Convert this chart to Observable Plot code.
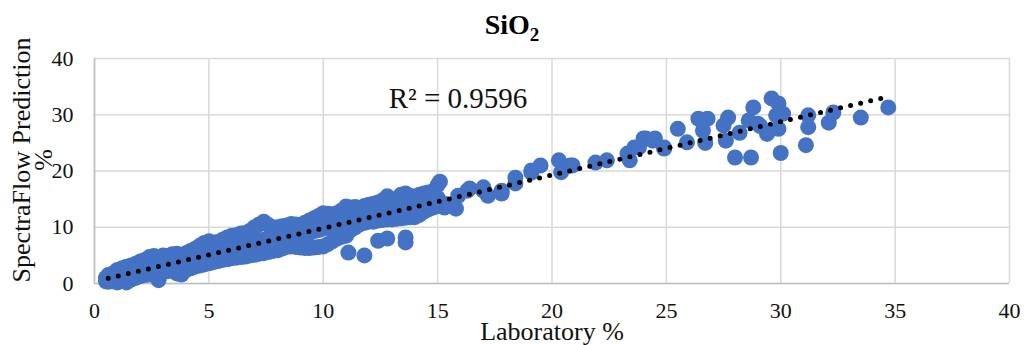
<!DOCTYPE html>
<html>
<head>
<meta charset="utf-8">
<script src="https://cdn.jsdelivr.net/npm/d3@7"></script>
<script src="https://cdn.jsdelivr.net/npm/@observablehq/plot@0.6"></script>
<style>
  html, body { margin: 0; padding: 0; background: #fff; }
  #wrap { position: relative; width: 1024px; height: 345px; overflow: hidden; }
  #title { position: absolute; left: 0; width: 1024px; top: 11px; text-align: center;
    font-family: "Liberation Serif", "Times New Roman", serif; font-weight: bold; font-size: 28px; color: #000; line-height: 1; }
  #title sub { font-size: 19px; vertical-align: -7px; line-height: 0; }
</style>
</head>
<body>
<div id="wrap"><div id="title">SiO<sub>2</sub></div></div>
<script>
const titleText = "SiO2";
const xLabel = "Laboratory %";
const yLabel = "SpectraFlow Prediction\n%";
const r2Label = "R² = 0.9596";
const xTicks = [0, 5, 10, 15, 20, 25, 30, 35, 40];
const yTicks = [0, 10, 20, 30, 40];
const trendSlope = 0.946;
const trendIntercept = 0.37;
const trendRange = [0.6, 34.7];

// [laboratory %, predicted %]
const labVsPred = [
  [0.5,0.4],[0.5,1.0],[0.6,1.5],[0.6,0.3],[0.7,0.8],[0.8,1.8],[0.8,0.4],[0.9,1.2],
  [1.0,2.4],[1.0,0.2],[1.0,1.3],[1.2,2.7],[1.2,0.6],[1.2,1.6],[1.4,3.0],[1.4,0.2],[1.4,1.9],
  [1.6,3.2],[1.6,0.7],[1.6,2.0],[1.8,3.5],[1.8,1.0],[1.8,2.4],[2.0,3.9],[2.0,1.3],[2.0,2.6],
  [2.2,4.2],[2.2,1.5],[2.2,2.8],[2.4,4.7],[2.4,1.6],[2.4,3.0],[2.6,4.9],[2.6,1.8],[2.6,3.3],
  [2.8,4.6],[2.8,0.6],[2.8,3.0],[3.0,5.0],[3.0,2.0],[3.0,3.5],[3.2,4.8],[3.2,2.2],[3.2,3.4],
  [3.4,5.2],[3.4,2.3],[3.4,3.8],[3.6,5.3],[3.6,1.8],[3.6,3.7],[3.8,5.0],[3.8,1.6],[3.8,3.6],
  [4.0,5.4],[4.0,2.4],[4.0,4.0],[4.2,5.8],[4.2,2.7],[4.2,4.2],[4.4,6.2],[4.4,3.0],[4.4,4.5],
  [4.6,6.7],[4.6,3.2],[4.6,4.8],[4.8,7.2],[4.8,3.4],[4.8,5.2],[5.0,7.5],[5.0,3.6],[5.0,5.5],
  [5.2,7.3],[5.2,3.8],[5.2,5.6],[5.4,7.4],[5.4,4.0],[5.4,5.8],[5.6,7.8],[5.6,4.2],[5.6,6.0],
  [5.8,8.2],[5.8,4.3],[5.8,6.2],[6.0,8.5],[6.0,4.5],[6.0,6.4],[6.2,8.6],[6.2,4.6],[6.2,6.6],
  [6.4,8.9],[6.4,4.7],[6.4,6.8],[6.6,9.0],[6.6,4.8],[6.6,7.0],[6.8,9.4],[6.8,5.0],[6.8,7.2],
  [7.0,10.0],[7.0,5.1],[7.0,7.4],[7.2,10.5],[7.2,5.3],[7.2,7.6],[7.4,11.0],[7.4,5.4],[7.4,7.8],
  [7.6,10.4],[7.6,5.6],[7.6,8.0],[7.8,9.8],[7.8,5.8],[7.8,7.9],[8.0,10.0],[8.0,5.9],[8.0,8.2],
  [8.2,10.2],[8.2,6.2],[8.2,8.4],[8.4,10.3],[8.4,6.5],[8.4,8.6],[8.6,10.6],[8.6,6.6],[8.6,8.8],
  [8.8,10.5],[8.8,6.5],[8.8,8.7],[9.0,10.4],[9.0,6.4],[9.0,8.6],[9.2,10.8],[9.2,6.3],[9.2,8.9],
  [9.4,11.2],[9.4,6.3],[9.4,9.0],[9.6,11.6],[9.6,6.4],[9.6,9.3],[9.8,12.0],[9.8,6.5],[9.8,9.5],
  [10.0,12.5],[10.0,6.6],[10.0,9.8],[10.2,12.4],[10.2,7.0],[10.2,9.9],[10.4,12.3],[10.4,7.5],[10.4,10.0],
  [10.6,12.5],[10.6,8.0],[10.6,10.3],[10.8,13.0],[10.8,8.3],[10.8,10.6],[11.0,13.7],[11.0,8.5],[11.0,11.0],
  [11.1,5.5],[11.2,13.5],[11.2,9.5],[11.2,11.5],[11.4,13.6],[11.4,10.0],[11.4,11.8],
  [11.6,13.4],[11.6,10.5],[11.6,12.0],[11.8,5.0],[11.8,13.8],[11.8,10.8],[11.8,12.2],
  [12.0,14.0],[12.0,11.0],[12.0,12.4],[12.2,14.2],[12.2,11.0],[12.2,12.6],
  [12.4,14.4],[12.4,11.2],[12.4,12.8],[12.4,7.6],[12.6,14.8],[12.6,11.3],[12.6,13.0],
  [12.8,15.5],[12.8,11.4],[12.8,13.1],[12.8,8.0],[13.0,15.0],[13.0,11.4],[13.0,13.0],
  [13.2,14.5],[13.2,11.5],[13.2,13.2],[13.4,15.8],[13.4,11.6],[13.4,13.5],
  [13.6,16.0],[13.6,11.7],[13.6,13.8],[13.6,8.2],[13.6,7.3],[13.8,15.6],[13.8,11.8],[13.8,13.6],
  [14.0,15.4],[14.0,11.8],[14.0,13.5],[14.2,15.8],[14.2,12.2],[14.2,14.0],[14.4,16.0],[14.4,12.8],[14.4,14.2],
  [14.6,16.2],[14.6,13.2],[14.6,14.6],[14.8,16.4],[14.8,13.5],[14.8,15.0],[15.0,17.5],[15.0,13.8],[15.0,15.2],
  [15.1,18.1],[15.3,13.5],[15.3,14.2],[15.8,13.3],[15.9,15.6],[16.3,16.5],[16.4,16.9],[17.0,17.1],
  [17.0,16.5],[17.2,15.6],[17.8,16.5],[17.8,16.0],[18.4,18.8],[18.4,17.8],[19.1,19.7],[19.1,20.1],
  [19.5,21.0],[20.3,21.9],[20.4,19.8],[20.8,21.0],[20.9,21.0],[21.9,21.5],[22.4,21.9],[23.3,23.1],
  [23.4,21.9],[23.6,24.2],[23.8,24.2],[24.0,25.8],[24.1,25.8],[24.4,25.4],[24.5,25.8],[24.9,24.2],
  [24.9,24.0],[25.5,27.5],[25.9,25.1],[26.4,29.3],[26.6,27.2],[26.7,25.0],[26.8,29.3],[27.5,28.1],
  [27.6,25.4],[27.7,29.5],[28.0,22.4],[28.2,26.8],[28.6,29.0],[28.7,22.4],[28.8,31.3],[29.0,28.4],
  [29.1,28.0],[29.4,26.6],[29.6,32.9],[29.8,29.9],[29.9,32.0],[29.9,27.5],[30.0,23.2],[30.1,30.2],
  [31.1,24.6],[31.2,29.9],[31.2,27.8],[32.1,28.6],[32.3,30.4],[33.5,29.5],[34.7,31.3]
];

const points = labVsPred.map(([lab, pred]) => ({lab, pred}));
const trend = trendRange.map(x => ({lab: x, pred: trendSlope * x + trendIntercept}));
const serif = "'Liberation Serif', 'Times New Roman', serif";

const chart = Plot.plot({
  width: 1024,
  height: 345,
  marginLeft: 94,
  marginRight: 15,
  marginTop: 58,
  marginBottom: 62,
  style: {fontFamily: serif, fontSize: "22px", color: "#111", background: "#fff"},
  x: {domain: [0, 40], ticks: xTicks, label: null, tickSize: 0, tickPadding: 20},
  y: {domain: [0, 40], ticks: yTicks, label: null, tickSize: 0, tickPadding: 20},
  marks: [
    Plot.gridX(xTicks, {stroke: "#d9d9d9", strokeOpacity: 1, strokeWidth: 1.5}),
    Plot.gridY(yTicks, {stroke: "#d9d9d9", strokeOpacity: 1, strokeWidth: 1.5}),
    Plot.ruleX([0], {stroke: "#bfbfbf", strokeWidth: 1.5}),
    Plot.ruleY([0], {stroke: "#bfbfbf", strokeWidth: 1.5}),
    Plot.axisX({ticks: xTicks, tickSize: 0, tickPadding: 19, fontSize: 22, label: null}),
    Plot.axisY({ticks: yTicks, tickSize: 0, tickPadding: 21, fontSize: 22, label: null}),
    Plot.dot(points, {x: "lab", y: "pred", r: 8, fill: "#4472C4", stroke: "none"}),
    Plot.line(trend, {x: "lab", y: "pred", stroke: "#000", strokeWidth: 5,
      strokeDasharray: "0,10.3", strokeLinecap: "round"}),
    Plot.text([r2Label], {frameAnchor: "top", textAnchor: "middle", lineAnchor: "middle",
      dx: -94, dy: 40, text: d => d, fontSize: 29, fill: "#111", fontFamily: serif}),
    Plot.text([xLabel], {frameAnchor: "bottom", textAnchor: "middle", lineAnchor: "middle",
      dy: 48, text: d => d, fontSize: 26, fill: "#111", fontFamily: serif}),
    Plot.text([yLabel], {frameAnchor: "left", textAnchor: "middle", lineAnchor: "middle",
      dx: -61, dy: -11, rotate: -90, text: d => d,
      lineHeight: 0.85, fontSize: 26, fill: "#111", fontFamily: serif})
  ]
});
document.getElementById("wrap").appendChild(chart);
</script>
</body>
</html>
